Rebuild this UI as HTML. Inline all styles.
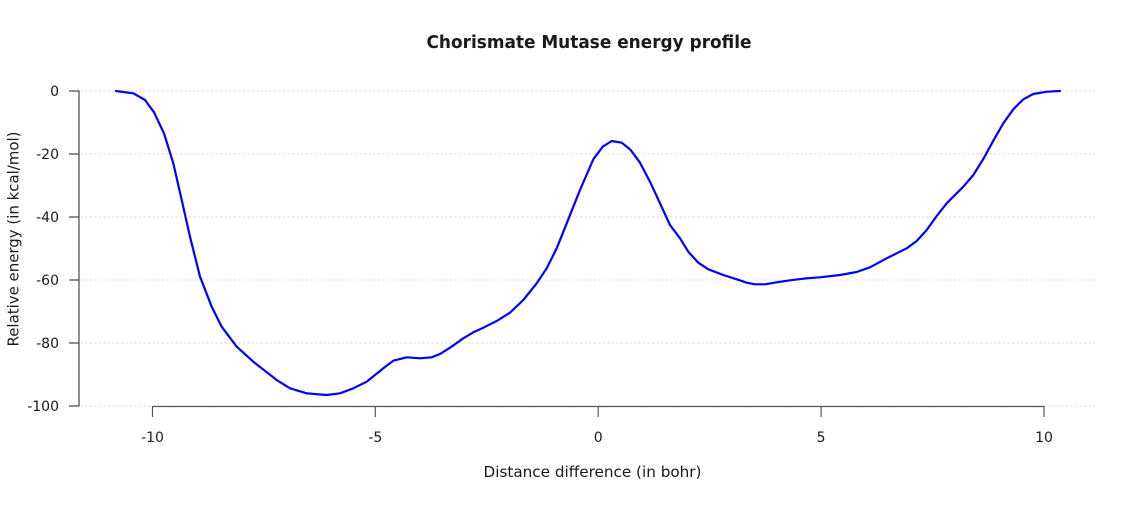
<!DOCTYPE html>
<html>
<head>
<meta charset="utf-8">
<style>
  html, body { margin: 0; padding: 0; background: #ffffff; }
  svg { display: block; }
  text { font-family: "DejaVu Sans", "Liberation Sans", sans-serif; fill: #1a1a1a; }
</style>
</head>
<body>
<svg width="1138" height="505" viewBox="0 0 1138 505" xmlns="http://www.w3.org/2000/svg">
  <rect x="0" y="0" width="1138" height="505" fill="#ffffff"/>

  <!-- Title -->
  <text x="589" y="48" text-anchor="middle" font-size="18" font-weight="bold" textLength="325" lengthAdjust="spacingAndGlyphs">Chorismate Mutase energy profile</text>

  <!-- Gridlines -->
  <g stroke="#cfcfcf" stroke-width="1" stroke-dasharray="1.5 3" fill="none">
    <line x1="81" y1="91" x2="1098" y2="91"/>
    <line x1="81" y1="154" x2="1098" y2="154"/>
    <line x1="81" y1="217" x2="1098" y2="217"/>
    <line x1="81" y1="280" x2="1098" y2="280"/>
    <line x1="81" y1="343" x2="1098" y2="343"/>
    <line x1="81" y1="406" x2="1098" y2="406"/>
  </g>

  <!-- Y axis -->
  <g stroke="#444" stroke-width="1.2" fill="none">
    <line x1="79" y1="90.5" x2="79" y2="406.5"/>
    <line x1="69" y1="91" x2="79" y2="91"/>
    <line x1="69" y1="154" x2="79" y2="154"/>
    <line x1="69" y1="217" x2="79" y2="217"/>
    <line x1="69" y1="280" x2="79" y2="280"/>
    <line x1="69" y1="343" x2="79" y2="343"/>
    <line x1="69" y1="406" x2="79" y2="406"/>
  </g>

  <!-- X axis -->
  <g stroke="#555" stroke-width="1.2" fill="none">
    <line x1="152.5" y1="406.5" x2="1044" y2="406.5"/>
    <line x1="152.5" y1="406" x2="152.5" y2="417"/>
    <line x1="375.3" y1="406" x2="375.3" y2="417"/>
    <line x1="598.2" y1="406" x2="598.2" y2="417"/>
    <line x1="821.1" y1="406" x2="821.1" y2="417"/>
    <line x1="1044" y1="406" x2="1044" y2="417"/>
  </g>

  <!-- Y tick labels -->
  <g font-size="14" text-anchor="end">
    <text x="59" y="96">0</text>
    <text x="59" y="159">-20</text>
    <text x="59" y="222">-40</text>
    <text x="59" y="285">-60</text>
    <text x="59" y="348">-80</text>
    <text x="59" y="411">-100</text>
  </g>

  <!-- X tick labels -->
  <g font-size="14" text-anchor="middle">
    <text x="152.5" y="442">-10</text>
    <text x="375.3" y="442">-5</text>
    <text x="598.2" y="442">0</text>
    <text x="821.1" y="442">5</text>
    <text x="1044" y="442">10</text>
  </g>

  <!-- Axis titles -->
  <text x="592.5" y="477" text-anchor="middle" font-size="15" textLength="218" lengthAdjust="spacingAndGlyphs">Distance difference (in bohr)</text>
  <text transform="translate(18.5,239) rotate(-90)" x="0" y="0" text-anchor="middle" font-size="15" textLength="215" lengthAdjust="spacingAndGlyphs">Relative energy (in kcal/mol)</text>

  <!-- Series -->
  <polyline fill="none" stroke="#0000ff" stroke-width="2.2" stroke-linejoin="round" stroke-linecap="round"
    points="116,91 133.3,93.3 145,100 154,112.3 164,133.3 173.3,163.3 181.7,200 190,236.7 200,276.7 211.7,306.7 221.7,326.7 236.7,346.7 253.3,361.7 276.7,380 290,388.3 306.7,393.3 326.7,395 340,393.3 353.3,388.3 366.7,381.7 383.3,368.3 393.3,360.7 406.7,357.3 420,358.3 431.7,357.3 440,354 450,347.7 463.3,338.3 473.3,332.3 483.3,327.7 496.7,321 510,312.7 523.3,300 536.7,283.3 546.7,268.3 556.7,248.3 566.7,223.3 580,190 593.3,159.3 602.7,146.7 611.7,141 621.7,142.7 630.7,150 640,162.7 650,181.7 660,203.3 670,225 680,238.3 688.3,251.7 698.3,262.7 708.3,269.3 723.3,275 736.7,279.3 746.7,282.7 755,284.3 765,284.3 776.7,282.3 790,280.3 806.7,278.3 820,277.3 840,275 856.7,272 870,267.3 886.7,258.3 906.7,248.3 916.7,241 926.7,230 936.7,216 946.7,203.3 963.3,186.7 973.3,175 983.3,159 993.3,140.7 1003.3,123.3 1013.3,109.3 1023.3,99.3 1033.3,94 1046.7,91.7 1060,91"/>
</svg>
</body>
</html>
